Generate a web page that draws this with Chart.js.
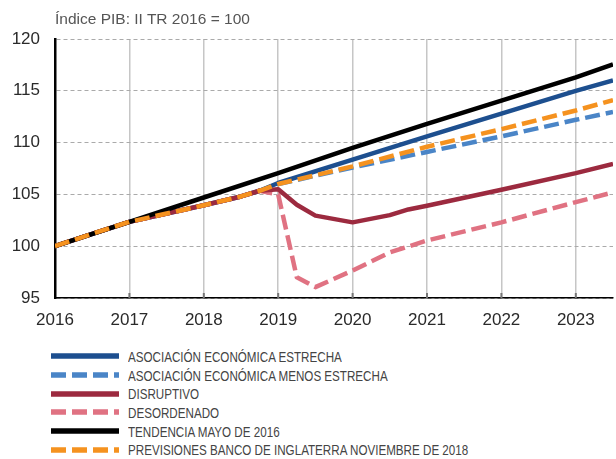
<!DOCTYPE html>
<html lang="es">
<head>
<meta charset="utf-8">
<script src="https://cdn.jsdelivr.net/npm/chart.js@4.4.1/dist/chart.umd.min.js"></script>
<style>
  body { margin: 0; background: #fff; font-family: "Liberation Sans", Arial, sans-serif; }
  #wrap { position: relative; width: 616px; height: 459px; overflow: hidden; }
  #titulo { position: absolute; left: 55px; top: 10px; font-size: 15.5px; color: #555; white-space: nowrap; }
  #grafico { position: absolute; left: 0; top: 0; }
  #leyenda { position: absolute; left: 51px; top: 347px; }
  .item { height: 18.7px; display: flex; align-items: center; }
  .item svg { width: 68px; height: 8px; flex: none; }
  .item span { margin-left: 9px; font-size: 15px; color: #444; white-space: nowrap;
    transform: scaleX(0.775); transform-origin: left center; }
</style>
</head>
<body>
<div id="wrap">
  <canvas id="grafico" width="616" height="340"></canvas>
  <div id="titulo">Índice PIB: II TR 2016 = 100</div>
  <div id="leyenda"></div>
</div>
<script>
// Datos (trimestres en años decimales)
const years = [2016, 2016.5, 2017, 2017.5, 2018, 2018.5, 2018.75, 2019, 2019.25, 2019.5,
               2020, 2020.5, 2020.75, 2021, 2022, 2023, 2023.5];

const estrecha      = [100, 101.2, 102.35, 103.15, 103.95, 104.8, 105.35, 106.1, null, null,
                       108.35, null, null, 110.6, 112.8, 115.0, 116.0];
const menosEstrecha = [100, 101.2, 102.35, 103.15, 103.95, 104.8, 105.35, 106.0, null, null,
                       107.6, null, null, 109.1, 110.6, 112.2, 112.95];
const disruptivo    = [100, 101.2, 102.35, 103.15, 103.95, 104.8, 105.35, 105.5, 104.0, 102.95,
                       102.3, 103.0, 103.55, 103.9, 105.45, 107.05, 107.95];
const desordenado   = [100, 101.2, 102.35, 103.15, 103.95, 104.8, 105.35, 105.0, 97.0, 96.05,
                       97.65, 99.4, null, 100.55, 102.3, 104.25, 105.2];
const tendencia     = [100, null, 102.35, null, 104.7, null, null, 107.05, null, null,
                       109.5, null, null, 111.8, 114.05, 116.3, 117.55];
const previsiones   = [100, 101.2, 102.35, 103.15, 103.95, 104.8, 105.35, 106.0, null, null,
                       107.7, null, null, 109.6, 111.3, 113.1, 114.1];

const yTicks = [95, 100, 105, 110, 115, 120];
const xTicks = [2016, 2017, 2018, 2019, 2020, 2021, 2022, 2023];

const series = [
  { name: "ASOCIACIÓN ECONÓMICA ESTRECHA", data: estrecha, color: "#1d4f8f", dashed: false, order: 4 },
  { name: "ASOCIACIÓN ECONÓMICA MENOS ESTRECHA", data: menosEstrecha, color: "#4a85c7", dashed: true, order: 5 },
  { name: "DISRUPTIVO", data: disruptivo, color: "#9c2a3f", dashed: false, order: 2 },
  { name: "DESORDENADO", data: desordenado, color: "#e07282", dashed: true, order: 3 },
  { name: "TENDENCIA MAYO DE 2016", data: tendencia, color: "#000000", dashed: false, order: 1 },
  { name: "PREVISIONES BANCO DE INGLATERRA NOVIEMBRE DE 2018", data: previsiones, color: "#f5921f", dashed: true, order: 0 }
];

const DASH = [15, 6];

const datasets = series.map(s => ({
  label: s.name,
  data: years.map((x, i) => ({ x: x, y: s.data[i] })).filter(p => p.y !== null),
  borderColor: s.color,
  backgroundColor: s.color,
  borderWidth: 4.5,
  borderDash: s.dashed ? DASH : [],
  borderCapStyle: "butt",
  borderJoinStyle: "round",
  pointRadius: 0,
  tension: 0,
  fill: false,
  order: s.order
}));

const tickFont = { family: "'Liberation Sans', Arial, sans-serif", size: 17 };

// marcas cortas hacia dentro sobre el eje X
const marcasX = {
  id: "marcasX",
  afterDatasetsDraw(chart) {
    const { ctx, scales: { x }, chartArea } = chart;
    ctx.save();
    ctx.strokeStyle = "#777";
    ctx.lineWidth = 2;
    xTicks.slice(1).forEach(v => {
      const px = x.getPixelForValue(v);
      ctx.beginPath();
      ctx.moveTo(px, chartArea.bottom);
      ctx.lineTo(px, chartArea.bottom - 5);
      ctx.stroke();
    });
    ctx.restore();
  }
};

new Chart(document.getElementById("grafico").getContext("2d"), {
  type: "line",
  data: { datasets: datasets },
  options: {
    responsive: false,
    animation: false,
    layout: { padding: { top: 39, right: 3, left: 0, bottom: 0 } },
    plugins: { legend: { display: false }, tooltip: { enabled: false }, title: { display: false } },
    scales: {
      x: {
        type: "linear",
        min: 2016,
        max: 2023.5,
        afterFit: s => { s.height = 42; },
        afterBuildTicks: s => { s.ticks = xTicks.map(v => ({ value: v })); },
        ticks: { padding: 12, color: "#2a2a2a", font: tickFont, callback: v => String(v), maxRotation: 0 },
        grid: { color: "#c6c6c6", lineWidth: 1.5, drawTicks: false },
        border: { color: "#000", width: 1.5 }
      },
      y: {
        min: 95,
        max: 120,
        afterFit: s => { s.width = 55; },
        afterBuildTicks: s => { s.ticks = yTicks.map(v => ({ value: v })); },
        ticks: { padding: 15, color: "#2a2a2a", font: tickFont },
        grid: { color: "#aaaaaa", lineWidth: 1, drawTicks: false },
        border: { color: "#000", width: 2.5, dash: [4, 3] }
      }
    }
  },
  plugins: [marcasX]
});

// Leyenda en una columna
const leyenda = document.getElementById("leyenda");
series.forEach(s => {
  const row = document.createElement("div");
  row.className = "item";
  const dash = s.dashed ? ` stroke-dasharray="${DASH.join(" ")}"` : "";
  row.innerHTML = `<svg viewBox="0 0 68 8"><line x1="0" y1="4" x2="68" y2="4" stroke="${s.color}" stroke-width="5.5"${dash}/></svg><span>${s.name}</span>`;
  leyenda.appendChild(row);
});
</script>
</body>
</html>
